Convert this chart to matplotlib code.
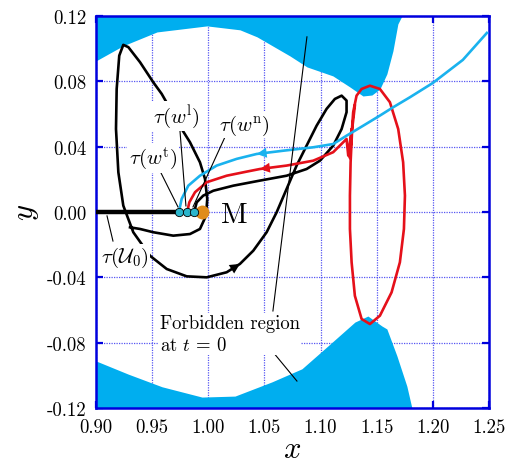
import matplotlib
matplotlib.use('Agg')
import matplotlib.pyplot as plt

plt.rcParams['mathtext.fontset'] = 'cm'
plt.rcParams['font.family'] = ['cmr10', 'DejaVu Serif']

# forbidden region boundaries (zero-velocity curve at t = 0)
top_x = [0.9000, 0.9240, 0.9543, 0.9988, 1.0282, 1.0434, 1.0728, 1.0879, 1.1110, 1.1262, 1.1378,
         1.1458, 1.1529, 1.1591, 1.1645, 1.1689, 1.1725]
top_y = [0.0925, 0.1017, 0.1102, 0.1139, 0.1115, 0.1072, 0.0955, 0.0888, 0.0833, 0.0765, 0.0710,
         0.0716, 0.0753, 0.0845, 0.0986, 0.1151, 0.1200]
bot_x = [0.900, 0.9285, 0.9588, 0.9944, 1.0238, 1.0567, 1.0834, 1.1066, 1.1306, 1.1422, 1.1547,
         1.1591, 1.168, 1.1769, 1.1814]
bot_y = [-0.0912, -0.0992, -0.107, -0.1133, -0.1127, -0.104, -0.096, -0.082, -0.0674, -0.0637,
         -0.0698, -0.0716, -0.088, -0.1066, -0.120]

# trajectories
black_x = [0.9875, 0.9897, 0.9955, 1.0045, 1.0223, 1.0460, 1.0698, 1.0876, 1.0995, 1.1113, 1.1188,
           1.1232, 1.1232, 1.1188, 1.1128, 1.1054, 1.0965, 1.0876, 1.0787, 1.0698, 1.0609, 1.0520,
           1.0401, 1.0282, 1.0164, 0.9986, 0.9808, 0.9630, 0.9481, 0.9332, 0.9243, 0.9199, 0.9178,
           0.9184, 0.9207, 0.9243, 0.9288, 0.9392, 0.9510, 0.9585, 0.9763, 0.9837, 0.9926, 0.9971,
           0.9991, 0.9980, 0.9926, 0.9837, 0.9688, 0.9510, 0.9392, 0.9303]
black_y = [0.0002, 0.0059, 0.0100, 0.0130, 0.0161, 0.0192, 0.0222, 0.0263, 0.0314, 0.0406, 0.0508,
           0.0611, 0.0682, 0.0712, 0.0692, 0.0631, 0.0528, 0.0406, 0.0284, 0.0141, -0.0002, -0.0124,
           -0.0237, -0.0318, -0.0369, -0.0400, -0.0394, -0.0349, -0.0268, -0.0124, 0.0039, 0.0243, 0.0508,
           0.0753, 0.0957, 0.1023, 0.1009, 0.0917, 0.0794, 0.0723, 0.0508, 0.0427, 0.0304, 0.0202,
           0.0080, -0.0023, -0.0104, -0.0135, -0.0145, -0.0124, -0.0104, -0.0094]

red_x = [0.9813, 0.9831, 0.9882, 0.9986, 1.0164, 1.0342, 1.0460, 1.0698, 1.0935, 1.1113, 1.1232,
         1.1247, 1.1277, 1.1262, 1.1291, 1.1321, 1.1366, 1.1440, 1.1529, 1.1618, 1.1692, 1.1736,
         1.1752, 1.1743, 1.1707, 1.1633, 1.1529, 1.1440, 1.1366, 1.1306, 1.1277, 1.1262, 1.1262,
         1.1268, 1.1282, 1.1306]
red_y = [0.0002, 0.0059, 0.0121, 0.0182, 0.0222, 0.0247, 0.0263, 0.0284, 0.0314, 0.0366, 0.0447,
         0.0345, 0.0508, 0.0330, 0.0611, 0.0712, 0.0753, 0.0773, 0.0753, 0.0672, 0.0508, 0.0304,
         0.0100, -0.0104, -0.0308, -0.0492, -0.0635, -0.0686, -0.0655, -0.0513, -0.0308, -0.0104, 0.0100,
         0.0304, 0.0508, 0.0651]

cyan_x = [0.9739, 0.9763, 0.9822, 0.9926, 1.0075, 1.0253, 1.0431, 1.0668, 1.0935, 1.1113, 1.1232,
          1.1380, 1.1529, 1.1647, 1.1796, 1.2001, 1.2268, 1.2482]
cyan_y = [0.0002, 0.0080, 0.0161, 0.0222, 0.0284, 0.0325, 0.0355, 0.0375, 0.0396, 0.0416, 0.0467,
          0.0528, 0.0590, 0.0641, 0.0702, 0.0790, 0.0931, 0.1096]

u0_x = [0.900, 0.9739]
u0_y = [0.0, 0.0]
dots_x = [0.9739, 0.9810, 0.9873]
moon = (0.9944, 0.0)

xticks = [0.90, 0.95, 1.00, 1.05, 1.10, 1.15, 1.20, 1.25]
xtick_labels = ['0.90', '0.95', '1.00', '1.05', '1.10', '1.15', '1.20', '1.25']
yticks = [0.12, 0.08, 0.04, 0.00, -0.04, -0.08, -0.12]
ytick_labels = ['0.12', '0.08', '0.04', '0.00', '-0.04', '-0.08', '-0.12']

fill_c = '#00AEEF'
cyan_c = '#1AB2EE'
red_c = '#E5101A'
blue = '#0000DD'

fig = plt.figure(figsize=(5.19, 4.64), dpi=100)
ax = fig.add_axes([0.185, 0.1185, 0.757, 0.845])

ax.fill_between(top_x, top_y, 0.12, color=fill_c, lw=0, zorder=1)
ax.fill_between(bot_x, -0.12, bot_y, color=fill_c, lw=0, zorder=1)

ax.plot(u0_x, u0_y, color='black', lw=3.2, solid_capstyle='butt', zorder=3)
ax.plot(black_x, black_y, color='black', lw=1.9, zorder=3, solid_joinstyle='round')
ax.plot(red_x, red_y, color=red_c, lw=1.9, zorder=4, solid_joinstyle='round')
ax.plot(cyan_x, cyan_y, color=cyan_c, lw=1.9, zorder=4, solid_joinstyle='round')


# direction arrows, head at point `head`, pointing away from point `tail`
def arrow(xs, ys, head, tail, color):
    ax.annotate('', xy=(xs[head], ys[head]), xytext=(xs[tail], ys[tail]),
                arrowprops=dict(arrowstyle='-|>', color=color, lw=0, mutation_scale=18,
                                shrinkA=0, shrinkB=0), zorder=6)


arrow(cyan_x, cyan_y, 6, 7, cyan_c)
arrow(red_x, red_y, 6, 7, red_c)
arrow(black_x, black_y, 23, 24, 'black')

ax.plot([moon[0]], [moon[1]], 'o', color='#E08C1C', ms=10, mec='none', zorder=5)
ax.plot(dots_x, [0, 0, 0], 'o', color='#2BB5CC', ms=6, mec='black', mew=0.6, zorder=6)

# pointer lines
ptr = dict(color='black', lw=0.8, zorder=5)
ax.plot([0.9552, 0.9730], [0.0276, 0.0031], **ptr)
ax.plot([0.9748, 0.9801], [0.0496, 0.0037], **ptr)
ax.plot([1.0149, 0.9864], [0.0459, 0.0031], **ptr)
ax.plot([0.9098, 0.9151], [-0.0024, -0.0178], **ptr)
ax.plot([1.0879, 1.0576], [0.1072, -0.0606], **ptr)
ax.plot([1.0576, 1.0790], [-0.0857, -0.1035], **ptr)

box = dict(facecolor='white', edgecolor='none', pad=1)
ax.text(0.9712, 0.0588, r'$\tau(w^{\mathrm{l}})$', fontsize=15, ha='center', va='center', bbox=box, zorder=7)
ax.text(1.0318, 0.0533, r'$\tau(w^{\mathrm{n}})$', fontsize=15, ha='center', va='center', bbox=box, zorder=7)
ax.text(0.9508, 0.0331, r'$\tau(w^{\mathrm{t}})$', fontsize=15, ha='center', va='center', bbox=box, zorder=7)
ax.text(0.9258, -0.0276, r'$\tau(\mathcal{U}_0)$', fontsize=15, ha='center', va='center', bbox=box, zorder=7)
ax.text(1.0229, -0.0018, 'M', fontsize=21, ha='center', va='center', zorder=7)
ax.text(0.9570, -0.0625, 'Forbidden region\nat $t$ = 0', fontsize=13.5, ha='left', va='top',
        linespacing=1.25, bbox=box, zorder=7)

ax.set_xlim(0.90, 1.25)
ax.set_ylim(-0.12, 0.12)
ax.set_xticks(xticks)
ax.set_xticklabels(xtick_labels)
ax.set_yticks(yticks)
ax.set_yticklabels(ytick_labels)
ax.tick_params(direction='in', top=True, right=True, length=5, width=1.6, color=blue,
               labelsize=13.5, pad=7)
for s in ax.spines.values():
    s.set_color(blue)
    s.set_linewidth(1.8)
ax.set_axisbelow(True)
ax.grid(True, color='#3A3AF0', lw=0.9, linestyle=(0, (1, 1)), alpha=0.85)

ax.set_xlabel('$x$', fontsize=22, labelpad=0)
ax.set_ylabel('$y$', fontsize=22, labelpad=4)

fig.savefig('out.png', dpi=100)
